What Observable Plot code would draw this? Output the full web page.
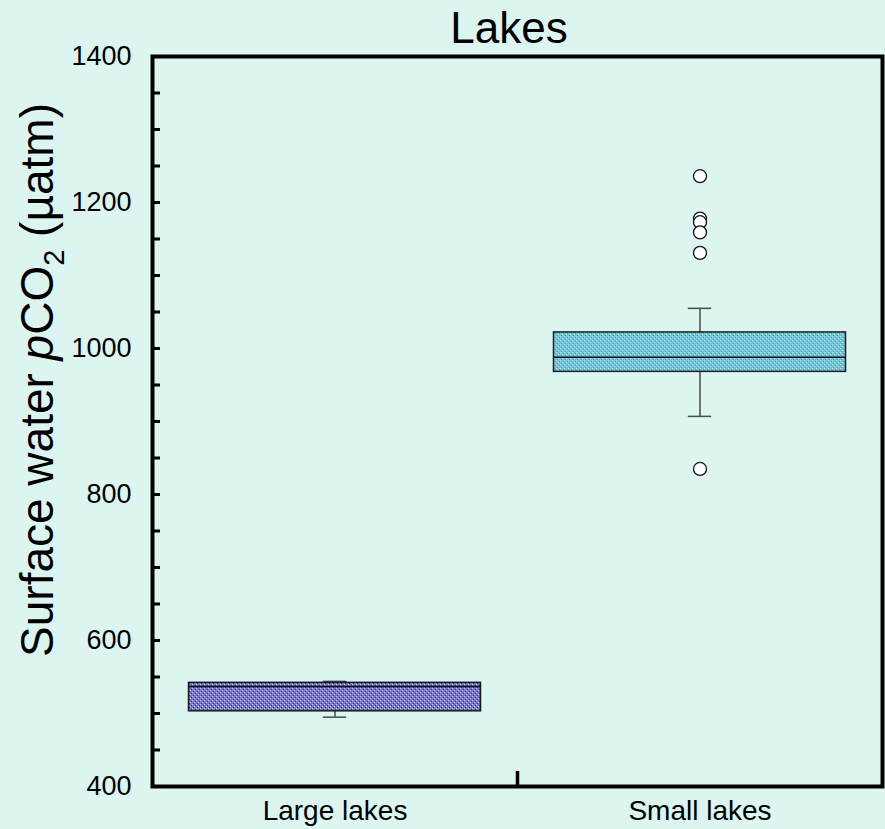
<!DOCTYPE html>
<html><head><meta charset="utf-8">
<script src="https://cdn.jsdelivr.net/npm/d3@7"></script>
<script src="https://cdn.jsdelivr.net/npm/@observablehq/plot@0.6"></script>
<style>
html,body{margin:0;padding:0;background:#dcf5f0;}
#chart svg{display:block;}
</style></head><body><div id="chart"></div>
<script>
// ---- data ----
const categories = ["Large lakes", "Small lakes"];
const whiskerLow  = [495, 907];
const q1          = [503, 968];
const median      = [537, 988];
const q3          = [542, 1022];
const whiskerHigh = [544, 1055];
const outlierCategory = ["Small lakes", "Small lakes", "Small lakes", "Small lakes", "Small lakes", "Small lakes"];
const outlierValue    = [1236, 1178, 1173, 1159, 1131, 835];
const yMajorTicks = [400, 600, 800, 1000, 1200, 1400];
const yMinorTicks = [400, 450, 500, 550, 600, 650, 700, 750, 800, 850, 900, 950, 1000, 1050, 1100, 1150, 1200, 1250, 1300, 1350, 1400];
const titleText = "Lakes";

// ---- derived tables ----
const boxes = categories.map((c, i) => ({
  cat: c, pos: i, lo: whiskerLow[i], q1: q1[i], med: median[i], q3: q3[i], hi: whiskerHigh[i]
}));
const outliers = outlierCategory.map((c, i) => ({pos: categories.indexOf(c), v: outlierValue[i]}));
const patternIds = ["patLarge", "patSmall"];
const half = 0.4, cap = 0.032;

const boxMarks = boxes.map((b, i) => Plot.rectY([b], {
  x1: d => d.pos + 0.5 - half, x2: d => d.pos + 0.5 + half, y1: "q1", y2: "q3",
  fill: `url(#${patternIds[i]})`, stroke: "#1a1a1a", strokeWidth: 1.5
}));

const plot = Plot.plot({
  width: 885, height: 829,
  marginLeft: 152, marginRight: 3, marginTop: 56, marginBottom: 43,
  style: {background: "#dcf5f0", fontFamily: "'Liberation Sans', Arial, sans-serif", fontSize: "27px", color: "black"},
  x: {type: "linear", domain: [0, categories.length]},
  y: {domain: [400, 1400]},
  marks: [
    // whiskers
    Plot.ruleX(boxes, {x: d => d.pos + 0.5, y1: "q3", y2: "hi", stroke: "#4a4a4a", strokeWidth: 1.5}),
    Plot.ruleX(boxes, {x: d => d.pos + 0.5, y1: "q1", y2: "lo", stroke: "#4a4a4a", strokeWidth: 1.5}),
    Plot.ruleY(boxes, {y: "hi", x1: d => d.pos + 0.5 - cap, x2: d => d.pos + 0.5 + cap, stroke: "#4a4a4a", strokeWidth: 1.5}),
    Plot.ruleY(boxes, {y: "lo", x1: d => d.pos + 0.5 - cap, x2: d => d.pos + 0.5 + cap, stroke: "#4a4a4a", strokeWidth: 1.5}),
    ...boxMarks,
    Plot.ruleY(boxes, {y: "med", x1: d => d.pos + 0.5 - half, x2: d => d.pos + 0.5 + half, stroke: "#111", strokeWidth: 1.5}),
    Plot.dot(outliers, {x: d => d.pos + 0.5, y: "v", r: 6.5, fill: "white", stroke: "#111", strokeWidth: 1.3}),
    // axes
    Plot.axisY({ticks: yMinorTicks, tickSize: -8, strokeWidth: 3, text: null, label: null}),
    Plot.axisY({ticks: yMajorTicks, tickSize: 0, tickPadding: 21, tickFormat: d3.format("d"), label: null, fontSize: 27}),
    Plot.axisX({ticks: categories.map((c, i) => i + 0.5), tickFormat: (d) => categories[Math.floor(d)], tickSize: 0, tickPadding: 14, label: null, fontSize: 28}),
    Plot.axisX({ticks: d3.range(1, categories.length), tickSize: -15, strokeWidth: 3.5, text: null, label: null}),
    Plot.frame({stroke: "black", strokeWidth: 4})
  ]
});

const svg = d3.select(plot);
const defs = svg.insert("defs", ":first-child");
function makePattern(id, base, light, dark) {
  const p = defs.append("pattern").attr("id", id).attr("patternUnits", "userSpaceOnUse").attr("width", 4).attr("height", 4);
  p.append("rect").attr("width", 4).attr("height", 4).attr("fill", base);
  p.append("rect").attr("x", 0).attr("y", 0).attr("width", 1).attr("height", 1).attr("fill", light);
  p.append("rect").attr("x", 2).attr("y", 2).attr("width", 1).attr("height", 1).attr("fill", light);
  p.append("rect").attr("x", 1).attr("y", 3).attr("width", 1).attr("height", 1).attr("fill", dark);
  p.append("rect").attr("x", 3).attr("y", 1).attr("width", 1).attr("height", 1).attr("fill", dark);
}
makePattern("patLarge", "#7676c8", "#d0d0f4", "#2c2c96");
makePattern("patSmall", "#70c6da", "#bde8f1", "#3a9cbf");

// title
svg.append("text").attr("x", 509).attr("y", 43).attr("text-anchor", "middle")
  .attr("font-size", 44).attr("fill", "black").text(titleText);

// y axis label with italic p and subscript 2
const yl = svg.append("text").attr("transform", "translate(53,380) rotate(-90)")
  .attr("text-anchor", "middle").attr("font-size", 46).attr("fill", "black");
yl.append("tspan").text("Surface water ");
yl.append("tspan").attr("font-style", "italic").text("p");
yl.append("tspan").text("CO");
yl.append("tspan").attr("font-size", 29).attr("dy", 11).text("2");
yl.append("tspan").attr("dy", -11).text(" (µatm)");

document.getElementById("chart").appendChild(plot);
</script></body></html>
